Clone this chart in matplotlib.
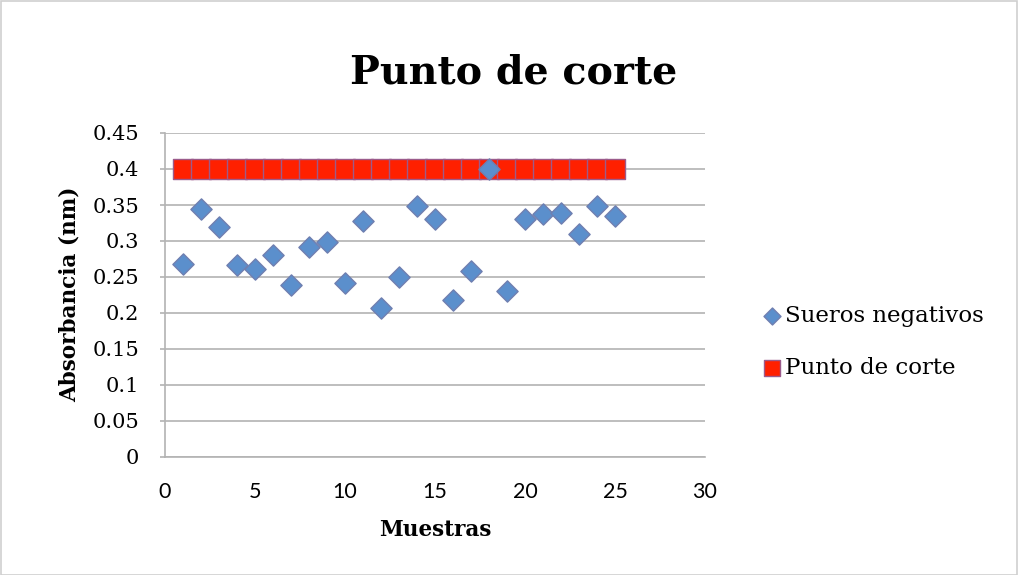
import matplotlib
matplotlib.use("Agg")
import matplotlib.pyplot as plt
from matplotlib.patches import Rectangle

muestras = list(range(1, 26))
sueros_negativos = [0.268, 0.344, 0.319, 0.266, 0.261, 0.281, 0.239, 0.292, 0.298, 0.241,
                    0.328, 0.207, 0.250, 0.349, 0.331, 0.218, 0.258, 0.400, 0.231, 0.331,
                    0.338, 0.339, 0.310, 0.348, 0.335]
punto_corte = [0.4] * 25

title = "Punto de corte"
xlabel = "Muestras"
ylabel = "Absorbancia (nm)"
xticks = [0, 5, 10, 15, 20, 25, 30]
yticks = [0, 0.05, 0.1, 0.15, 0.2, 0.25, 0.3, 0.35, 0.4, 0.45]
ytick_labels = ["0", "0.05", "0.1", "0.15", "0.2", "0.25", "0.3", "0.35", "0.4", "0.45"]

plt.rcParams['font.family'] = ['DejaVu Serif']

W, H = 1018, 575
fig = plt.figure(figsize=(W / 100, H / 100), dpi=100)
fig.patches.append(Rectangle((0.5 / W, 0.5 / H), 1 - 1.5 / W, 1 - 1.5 / H, transform=fig.transFigure,
                             fill=False, edgecolor='#cfcfcf', linewidth=1.2))

ax = fig.add_axes([165 / W, 1 - 457 / H, (705 - 165) / W, (457 - 133) / H])
ax.set_xlim(0, 30)
ax.set_ylim(0, 0.45)
ax.set_xticks(xticks)
ax.set_yticks(yticks)
ax.set_yticklabels(ytick_labels)
ax.grid(axis='y', color='#b3b3b3', linewidth=1.2)
ax.set_axisbelow(True)
for s in ['top', 'right']:
    ax.spines[s].set_visible(False)
for s in ['left', 'bottom']:
    ax.spines[s].set_color('#b3b3b3')
    ax.spines[s].set_linewidth(1.2)
ax.tick_params(axis='y', length=3.6, width=1.2, color='#b3b3b3', labelsize=15, pad=15)
ax.tick_params(axis='x', length=0, labelsize=15.5, pad=18)

ax.scatter(muestras, punto_corte, marker='s', s=15.1 ** 2, color='#ff2000',
           edgecolor='#9b5b8b', linewidth=1.0, zorder=3, label='Punto de corte')
ax.scatter(muestras, sueros_negativos, marker='D', s=10.8 ** 2, color='#5b8fcc',
           edgecolor='#6f7fb0', linewidth=1.0, zorder=4, label='Sueros negativos')

ax.set_xlabel(xlabel, fontsize=15.5, fontweight='bold')
ax.xaxis.set_label_coords(0.5, -0.191)
ax.set_ylabel(ylabel, fontsize=15.5, fontweight='bold')
ax.yaxis.set_label_coords(-0.157, 0.503)
fig.text(514 / W, 1 - 83.5 / H, title, fontsize=28.5, fontweight='bold', ha='center', va='baseline')

h, l = ax.get_legend_handles_labels()
leg = fig.legend([h[1], h[0]], [l[1], l[0]], loc='center left',
                 bbox_to_anchor=(760 / W, 1 - 342 / H), frameon=False, fontsize=16.5,
                 handletextpad=0.05, labelspacing=1.3, handlelength=1.05, markerscale=0.8,
                 borderpad=0, borderaxespad=0)

for tk in ax.xaxis.get_major_ticks():
    tk.label1.set_fontfamily(['Lato', 'Open Sans', 'DejaVu Sans'])

fig.savefig("out.png", dpi=100)
